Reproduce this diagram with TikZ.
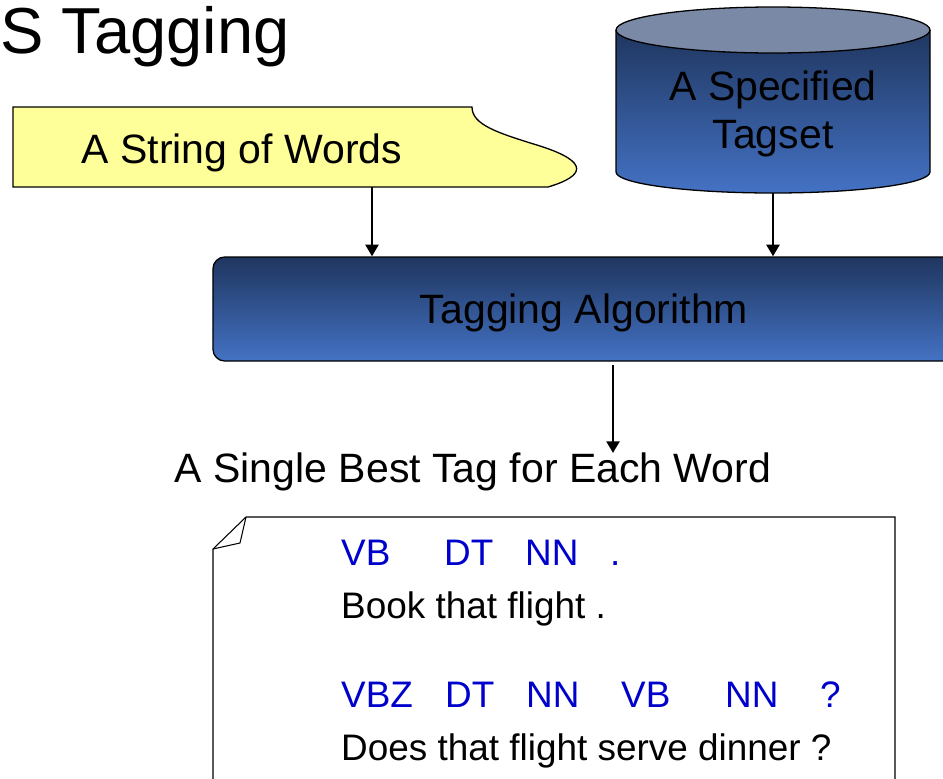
\documentclass[tikz,border=0pt]{standalone}
\usepackage{fontspec}
\setmainfont{Liberation Sans}
\usetikzlibrary{arrows.meta}
\definecolor{navytop}{RGB}{31,54,95}
\definecolor{bluebot}{RGB}{68,114,196}
\definecolor{lidcol}{RGB}{122,137,165}
\definecolor{wordfill}{RGB}{255,255,153}
\definecolor{tagblue}{RGB}{0,0,204}
\begin{document}
\begin{tikzpicture}[x=0.03cm,y=-0.03cm,
  outline/.style={draw=black,line width=1.1pt},
  thinline/.style={draw=black,line width=0.9pt},
  arr/.style={-{Triangle[length=10pt,width=11pt]},line width=2.4pt},
  big/.style={font=\fontsize{35}{41}\selectfont,inner sep=0pt},
  small/.style={font=\fontsize{31.5}{36}\selectfont,inner sep=0pt,anchor=base west},
  tag/.style={small,text=tagblue}]
\useasboundingbox (0,0) rectangle (943,779);
\clip (0,0) rectangle (943,779);

% heading
\node[anchor=base west,inner sep=0pt,font=\fontsize{55.5}{60}\selectfont] (title) at (0,53) {S Tagging};

% input: wavy document shape
\path[outline,fill=wordfill] (13,107) -- (472,107)
  .. controls (472,125) and (498,133) .. (540,146)
  .. controls (590,162) and (585,176) .. (548,187) -- (13,187) -- cycle;
\node[big,anchor=base] (words) at (242,163) {A String of Words};

% tagset: cylinder
\shade[top color=navytop,bottom color=bluebot] (616,30) -- (616,172)
  arc[start angle=180,end angle=0,x radius=157,y radius=21] -- (930,30) -- cycle;
\draw[outline] (616,30) -- (616,172)
  arc[start angle=180,end angle=0,x radius=157,y radius=21] -- (930,30);
\draw[outline,fill=lidcol] (773,30) ellipse [x radius=157,y radius=23];
\node[big,align=center] (tagset) at (773,114) {A Specified\\Tagset};

% algorithm box
\node[big,draw=black,line width=1.1pt,rounded corners=10pt,
  top color=navytop,bottom color=bluebot,
  minimum width=22.26cm,minimum height=3.12cm,text depth=0pt] (algo) at (584,309) {Tagging Algorithm};

% connectors into the algorithm
\coordinate (wordsfoot) at (372,187);
\coordinate (tagsetfoot) at (773,193);
\draw[arr] (wordsfoot) -- (wordsfoot |- algo.north);
\draw[arr] (tagsetfoot) -- (tagsetfoot |- algo.north);

% output
\node[big,anchor=base] (best) at (473,482) {A Single Best Tag for Each Word};
\coordinate (resulttip) at (613,453);
\draw[arr,shorten <=3pt] (algo.south -| resulttip) -- (resulttip);

% example note with folded corner
\draw[thinline,fill=white] (246,517) -- (895,517) -- (895,800) -- (213,800) -- (213,549) -- cycle;
\draw[thinline,line join=round] (246,517) -- (240,543) -- (213,549);

\node[tag] (r1a) at (341,565) {VB};
\node[tag] (r1b) at (444,565) {DT};
\node[tag] (r1c) at (525,565) {NN};
\node[tag] (r1d) at (610,565) {.};
\node[small] (s1) at (341,618) {Book that flight .};

\node[tag] (r2a) at (341,707) {VBZ};
\node[tag] (r2b) at (445,707) {DT};
\node[tag] (r2c) at (526,707) {NN};
\node[tag] (r2d) at (621,707) {VB};
\node[tag] (r2e) at (725,707) {NN};
\node[tag] (r2f) at (820,707) {?};
\node[small] (s2) at (341,760) {Does that flight serve dinner ?};
\end{tikzpicture}
\end{document}
